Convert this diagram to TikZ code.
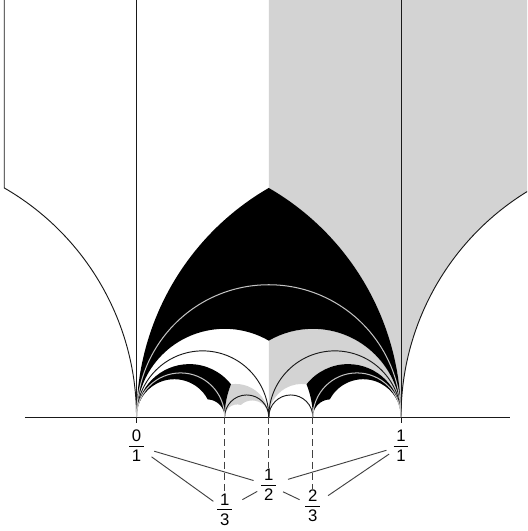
\documentclass[tikz,border=0pt]{standalone}
\usepackage{fontspec}
\setmainfont{Liberation Sans}
\definecolor{lgray}{RGB}{211,211,211}
\definecolor{dline}{RGB}{25,25,25}
\definecolor{lline}{RGB}{195,195,195}
\definecolor{tline}{RGB}{65,65,65}
\newcommand\myfr[2]{\vbox{\offinterlineskip\halign{\hfil\kern1.5pt##\kern1.5pt\hfil\cr #1\cr\noalign{\kern2pt\hrule height 0.45pt\kern2pt}#2\cr}}}
\begin{document}
\begin{tikzpicture}[x=5cm,y=5cm,
  darkline/.style={draw=dline,line width=0.5pt},
  lightline/.style={draw=lline,line width=0.55pt},
  dashline/.style={draw=tline,line width=0.5pt,dash pattern=on 3.8pt off 2.2pt},
  treeline/.style={draw=tline,line width=0.5pt},
  fraclabel/.style={inner sep=0.5pt,font=\fontsize{9}{10.8}\selectfont}]
\useasboundingbox (-0.5161,-0.4310) rectangle (1.4764,1.5766);
\clip (-0.5161,-0.4310) rectangle (1.4764,1.5766);

% upper gray region
\fill[lgray] (0.5,1.7) -- (0.5,0.866025) arc[start angle=60,end angle=0,radius=1]
  arc[start angle=180,end angle=120,radius=1] -- (1.5,1.7) -- cycle;
% gray band (right, below black)
\fill[lgray] (0.5,0) arc[start angle=180,end angle=81.787,radius=0.125]
  arc[start angle=141.787,end angle=0,radius=0.2]
  arc[start angle=0,end angle=120,radius=0.333333] -- cycle;
% big black region
\fill[black] (0,0) arc[start angle=180,end angle=120,radius=1]
  arc[start angle=60,end angle=0,radius=1]
  arc[start angle=0,end angle=120,radius=0.333333]
  arc[start angle=60,end angle=180,radius=0.333333] -- cycle;
% small gray region between 1/3 and 1/2
\fill[lgray] (0.333333,0) arc[start angle=180,end angle=158.213,radius=0.333333]
  arc[start angle=98.213,end angle=0,radius=0.125]
  arc[start angle=0,end angle=133.17,radius=0.0625]
  arc[start angle=73.17,end angle=180,radius=0.047619] -- cycle;
% small black region, left
\fill[black] (0,0) arc[start angle=180,end angle=38.213,radius=0.2]
  arc[start angle=158.213,end angle=180,radius=0.333333]
  arc[start angle=0,end angle=87.796,radius=0.0666667]
  arc[start angle=27.796,end angle=180,radius=0.142857] -- cycle;
% small black region, right
\fill[black] (1,0) arc[start angle=0,end angle=141.787,radius=0.2]
  arc[start angle=21.787,end angle=0,radius=0.333333]
  arc[start angle=180,end angle=92.204,radius=0.0666667]
  arc[start angle=152.204,end angle=0,radius=0.142857] -- cycle;

% coordinates
\coordinate (topL) at (-0.5,1.7);
\coordinate (sigma) at (-0.5,0.866025);
\coordinate (top0) at (0,1.7);
\coordinate (tick0) at (0,-0.023);
\coordinate (top1) at (1,1.7);
\coordinate (tick1) at (1,-0.023);
\coordinate (axL) at (-0.4216,0);
\coordinate (axR) at (1.4121,0);
\coordinate (p0) at (0,0);
\coordinate (p1) at (1,0);
\coordinate (a13) at (0.333333,0);
\coordinate (a12) at (0.5,0);
\coordinate (a23) at (0.666667,0);

% dark lines
\draw[darkline] (topL) -- (sigma) arc[start angle=60,end angle=0,radius=1];
\draw[darkline] (p1) arc[start angle=180,end angle=120,radius=1];
\draw[darkline] (top0) -- (tick0);
\draw[darkline] (top1) -- (tick1);
\draw[darkline] (axL) -- (axR);
\draw[darkline] (p0) arc[start angle=180,end angle=0,radius=0.25];
\draw[darkline] (a12) arc[start angle=180,end angle=0,radius=0.25];
\draw[darkline] (a13) arc[start angle=180,end angle=0,radius=0.0833333];
\draw[darkline] (a12) arc[start angle=180,end angle=0,radius=0.0833333];
% light lines inside black regions
\draw[lightline] (p0) arc[start angle=180,end angle=0,radius=0.5];
\draw[lightline] (p0) arc[start angle=180,end angle=0,radius=0.166667];
\draw[lightline] (a23) arc[start angle=180,end angle=0,radius=0.166667];

% labels
\node[fraclabel] (f01) at (0,-0.1096) {\myfr{0}{1}};
\node[fraclabel] (f11) at (1,-0.1096) {\myfr{1}{1}};
\node[fraclabel] (f12) at (0.5,-0.2571) {\myfr{1}{2}};
\node[fraclabel] (f13) at (0.333333,-0.3497) {\myfr{1}{3}};
\node[fraclabel] (f23) at (0.666667,-0.3365) {\myfr{2}{3}};

% dashed drop lines
\draw[dashline] (a13) -- (f13.north);
\draw[dashline] (a12) -- (f12.north);
\draw[dashline] (a23) -- (f23.north);

% Farey tree lines
\draw[treeline,shorten <=5pt,shorten >=3.6pt] (f01) -- (f12);
\draw[treeline,shorten <=4.2pt,shorten >=1.7pt] (f01) -- (f13);
\draw[treeline,shorten <=1.7pt,shorten >=5.5pt] (f12) -- (f13);
\draw[treeline,shorten <=3.3pt,shorten >=2.7pt] (f12) -- (f23);
\draw[treeline,shorten <=3.3pt,shorten >=5.9pt] (f11) -- (f12);
\draw[treeline,shorten <=2pt,shorten >=4.2pt] (f11) -- (f23);
\end{tikzpicture}
\end{document}
